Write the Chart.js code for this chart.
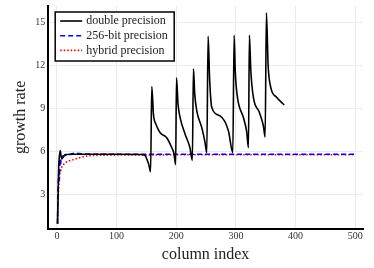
<!DOCTYPE html>
<html>
<head>
<meta charset="utf-8">
<script src="https://cdn.jsdelivr.net/npm/chart.js@4/dist/chart.umd.min.js"></script>
<style>
  html, body { margin: 0; padding: 0; background: #fff; }
  #wrap { width: 374px; height: 268px; }
</style>
</head>
<body>
<div id="wrap"><canvas id="chart" width="374" height="268"></canvas></div>
<script>
// series
const doubleX = [1, 2, 3, 4, 5.5, 7, 8.3, 11, 14, 30, 60, 100, 140, 148, 151, 154, 157, 159, 161.8, 166, 173, 184, 192.6, 196, 199, 200.4, 203, 206.5, 215, 223, 227, 228.8, 231, 234.4, 242.8, 248, 251.2, 253.4, 256, 259.6, 273.5, 287.5, 294.8, 297, 299, 302.6, 312.6, 318, 321, 322.6, 325, 329.3, 339.4, 346, 349, 351.1, 354, 358.4, 368.5, 381];
const doubleY = [1.0, 3.0, 5.0, 5.6, 6.08, 5.7, 5.5, 5.65, 5.8, 5.82, 5.82, 5.82, 5.8, 5.72, 5.45, 5.1, 4.6, 10.52, 8.6, 7.9, 7.32, 6.97, 6.27, 5.9, 5.1, 11.13, 9.3, 8.37, 7.2, 6.27, 5.39, 11.76, 10.0, 8.84, 7.67, 6.7, 5.92, 14.02, 11.0, 9.07, 8.49, 7.44, 5.92, 14.09, 11.5, 9.77, 8.37, 7.4, 6.27, 14.09, 11.6, 9.77, 8.72, 7.8, 7.02, 15.65, 12.0, 10.47, 9.77, 9.24];

const bigX = [1, 2, 3, 4, 5, 6, 7, 10, 15, 25, 30, 40, 60, 500];
const bigY = [1.0, 3.5, 4.5, 4.0, 5.5, 5.0, 5.6, 5.7, 5.75, 5.85, 5.9, 5.85, 5.82, 5.82];

const hybridX = [1, 2, 3, 4, 6, 8, 12, 20, 28, 40, 56, 80, 120, 200, 500];
const hybridY = [1.0, 2.5, 3.5, 4.2, 4.6, 4.9, 5.15, 5.35, 5.45, 5.6, 5.72, 5.75, 5.77, 5.78, 5.78];

const xTicks = [0, 100, 200, 300, 400, 500];
const yTicks = [3, 6, 9, 12, 15];
const seriesNames = ['double precision', '256-bit precision', 'hybrid precision'];

const pts = (xs, ys) => xs.map((x, i) => ({ x: x, y: ys[i] }));
const serif = "'Liberation Serif', 'DejaVu Serif', serif";

// legend drawn as a framed box inside the plot area
const boxLegend = {
    id: 'boxLegend',
    afterDatasetsDraw(chart) {
        const ctx = chart.ctx;
        const a = chart.chartArea;
        const x0 = a.left + 7, y0 = a.top + 6, w = 119, h = 49;
        ctx.save();
        ctx.fillStyle = '#fff';
        ctx.fillRect(x0, y0, w, h);
        ctx.strokeStyle = '#000';
        ctx.lineWidth = 1.5;
        ctx.strokeRect(x0, y0, w, h);
        ctx.font = '12px ' + serif;
        ctx.textBaseline = 'middle';
        chart.data.datasets.forEach((ds, i) => {
            const y = y0 + 9 + i * 14.7;
            ctx.strokeStyle = ds.borderColor;
            ctx.lineWidth = ds.borderWidth;
            ctx.setLineDash(ds.borderDash || []);
            ctx.beginPath();
            ctx.moveTo(x0 + 5, y);
            ctx.lineTo(x0 + 27, y);
            ctx.stroke();
            ctx.setLineDash([]);
            ctx.fillStyle = '#222';
            ctx.fillText(ds.label, x0 + 31, y);
        });
        ctx.restore();
    }
};

new Chart(document.getElementById('chart'), {
    type: 'line',
    data: {
        datasets: [
            {
                label: seriesNames[0],
                data: pts(doubleX, doubleY),
                borderColor: '#000',
                borderWidth: 1.6,
                pointRadius: 0,
                cubicInterpolationMode: 'monotone'
            },
            {
                label: seriesNames[1],
                data: pts(bigX, bigY),
                borderColor: '#0000ff',
                borderWidth: 1.6,
                borderDash: [5, 3],
                pointRadius: 0
            },
            {
                label: seriesNames[2],
                data: pts(hybridX, hybridY),
                borderColor: '#ff0000',
                borderWidth: 1.6,
                borderDash: [1.5, 2],
                pointRadius: 0,
                cubicInterpolationMode: 'monotone'
            }
        ]
    },
    options: {
        responsive: false,
        animation: false,
        layout: { padding: { top: 6, right: 11, left: 7, bottom: 4 } },
        plugins: {
            legend: { display: false },
            tooltip: { enabled: false }
        },
        scales: {
            x: {
                type: 'linear',
                min: -14.6,
                max: 513,
                afterBuildTicks: (s) => { s.ticks = xTicks.map(v => ({ value: v })); },
                grid: { color: '#ebebeb', lineWidth: 1, drawTicks: false },
                border: { color: '#000', width: 2 },
                ticks: { color: '#333', font: { family: serif, size: 10 }, padding: 2, maxRotation: 0 },
                title: { display: true, text: 'column index', color: '#222', font: { family: serif, size: 16 }, padding: { top: 0, bottom: 0 } }
            },
            y: {
                type: 'linear',
                min: 0.64,
                max: 16.12,
                afterBuildTicks: (s) => { s.ticks = yTicks.map(v => ({ value: v })); },
                afterFit: (s) => { s.paddingTop = 0; s.paddingBottom = 0; },
                grid: { color: '#ebebeb', lineWidth: 1, drawTicks: false },
                border: { color: '#000', width: 2 },
                ticks: { color: '#333', font: { family: serif, size: 10 }, padding: 3 },
                title: { display: true, text: 'growth rate', color: '#222', font: { family: serif, size: 16 }, padding: { bottom: 2 } }
            }
        }
    },
    plugins: [boxLegend]
});
</script>
</body>
</html>
